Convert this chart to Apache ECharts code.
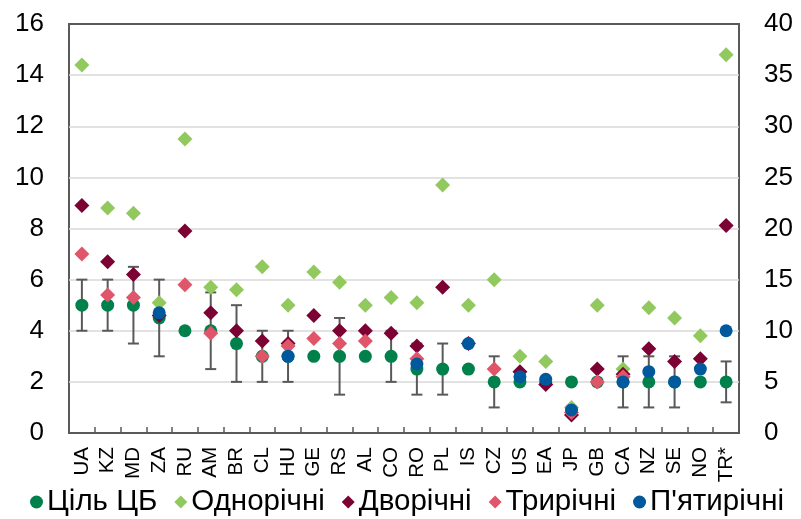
<!DOCTYPE html>
<html><head><meta charset="utf-8">
<script src="https://cdn.jsdelivr.net/npm/echarts@6/dist/echarts.min.js"></script>
<style>html,body{margin:0;padding:0;background:#fff}#c{width:801px;height:519px}</style>
</head><body><div id="c"></div>
<script>
// ---- data ----
const categories = ['UA','KZ','MD','ZA','RU','AM','BR','CL','HU','GE','RS','AL','CO','RO','PL','IS','CZ','US','EA','JP','GB','CA','NZ','SE','NO','TR*'];
// categories plotted against the right-hand axis
const rightAxisCategories = ['TR*'];
const targetValues = [5,5,5,4.5,4,4,3.5,3,3,3,3,3,3,2.5,2.5,2.5,2,2,2,2,2,2,2,2,2,5];
const targetLow  = [4,4,3.5,3,null,2.5,2,2,2,null,1.5,null,2,1.5,1.5,null,1,null,null,null,null,1,1,1,null,3];
const targetHigh = [6,6,6.5,6,null,5.5,5,4,4,null,4.5,null,4,3.5,3.5,null,3,null,null,null,null,3,3,3,null,7];
const oneYear   = [14.4,8.8,8.6,5.1,11.5,5.7,5.6,6.5,5.0,6.3,5.9,5.0,5.3,5.1,9.7,5.0,6.0,3.0,2.8,1.0,5.0,2.5,4.9,4.5,3.8,37];
const twoYear   = [8.9,6.7,6.2,4.6,7.9,4.7,4.0,3.6,3.5,4.6,4.0,4.0,3.9,3.4,5.7,3.5,null,2.4,1.9,0.7,2.5,2.3,3.3,2.8,2.9,20.3];
const threeYear = [7.0,5.4,5.3,null,5.8,3.9,null,3.0,3.4,3.7,3.5,3.6,null,2.9,null,null,2.5,null,null,0.8,2.0,2.2,null,null,null,null];
const fiveYear  = [null,null,null,4.7,null,null,null,null,3.0,null,null,null,null,2.7,null,3.5,null,2.2,2.1,0.9,null,2.0,2.4,2.0,2.5,10];
const leftAxisRange  = {min:0, max:16, interval:2};
const rightAxisRange = {min:0, max:40, interval:5};
const seriesNames = ['Ціль ЦБ','Однорічні','Дворічні','Трирічні',"П'ятирічні"];

// ---- styling ----
const FONT = 'Liberation Sans, Arial, sans-serif';
const AXIS_COLOR = '#595959';
const styles = [
  {values: targetValues, symbol:'circle',  size:13, color:'#00804B'},
  {values: oneYear,      symbol:'diamond', size:15, color:'#92C95E'},
  {values: twoYear,      symbol:'diamond', size:15, color:'#7B0233'},
  {values: threeYear,    symbol:'diamond', size:15, color:'#E0556A'},
  {values: fiveYear,     symbol:'circle',  size:13, color:'#00599D'}
];

function onRight(i){ return rightAxisCategories.indexOf(categories[i]) >= 0; }
function points(values, right){
  const out = [];
  values.forEach((v,i)=>{ if (v != null && onRight(i) === right) out.push([i, v]); });
  return out;
}
function ranges(right){
  const out = [];
  categories.forEach((c,i)=>{ if (targetLow[i] != null && onRight(i) === right) out.push([i, targetLow[i], targetHigh[i]]); });
  return out;
}
function errRender(params, api){
  const x = api.value(0);
  const lo = api.coord([x, api.value(1)]);
  const hi = api.coord([x, api.value(2)]);
  const w = 5.5;
  const st = {stroke: AXIS_COLOR, lineWidth: 2};
  return {type:'group', children:[
    {type:'line', shape:{x1:lo[0], y1:lo[1], x2:hi[0], y2:hi[1]}, style:st},
    {type:'line', shape:{x1:lo[0]-w, y1:lo[1], x2:lo[0]+w, y2:lo[1]}, style:st},
    {type:'line', shape:{x1:hi[0]-w, y1:hi[1], x2:hi[0]+w, y2:hi[1]}, style:st}
  ]};
}

const series = [];
[false, true].forEach(right=>{
  series.push({type:'custom', name:'range', yAxisIndex: right?1:0, renderItem: errRender,
    encode:{x:0, y:[1,2]}, data: ranges(right), silent:true, z:1});
});
styles.forEach((s,k)=>{
  [false, true].forEach(right=>{
    series.push({type:'scatter', name: seriesNames[k], yAxisIndex: right?1:0,
      symbol: s.symbol, symbolSize: s.size, itemStyle:{color: s.color, opacity:1},
      data: points(s.values, right), z: 2 + k});
  });
});

const chart = echarts.init(document.getElementById('c'), null, {renderer:'canvas'});
chart.setOption({
  animation:false,
  backgroundColor:'#fff',
  textStyle:{fontFamily: FONT},
  grid:{left:69, right:62, top:24, bottom:86, show:true, borderColor:AXIS_COLOR, borderWidth:2, containLabel:false},
  legend:{
    data: seriesNames.map((n,k)=>({name:n, icon: styles[k].symbol, itemStyle:{color: styles[k].color}})),
    left:30, width:771, top:487, itemWidth:13, itemHeight:13, itemGap:17, padding:0,
    textStyle:{fontFamily:FONT, fontSize:29.5, color:'#000', padding:[0,0,0,-1]}
  },
  xAxis:{
    type:'category', data: categories, boundaryGap:true,
    axisLine:{show:true, lineStyle:{color:AXIS_COLOR, width:2}},
    axisTick:{show:true, inside:true, length:6, lineStyle:{color:AXIS_COLOR, width:1.5}},
    axisLabel:{rotate:90, fontSize:20.5, margin:14, color:'#000', fontFamily:FONT, interval:0},
    splitLine:{show:false}
  },
  yAxis:[
    {type:'value', min:leftAxisRange.min, max:leftAxisRange.max, interval:leftAxisRange.interval,
      axisLine:{show:false}, axisTick:{show:false},
      axisLabel:{fontSize:26, margin:25, color:'#000', fontFamily:FONT},
      splitLine:{show:true, showMinLine:false, showMaxLine:false, lineStyle:{color:'#d9d9d9', width:1.5}}},
    {type:'value', min:rightAxisRange.min, max:rightAxisRange.max, interval:rightAxisRange.interval,
      axisLine:{show:false}, axisTick:{show:false},
      axisLabel:{fontSize:26, margin:25, color:'#000', fontFamily:FONT},
      splitLine:{show:false}}
  ],
  series: series
});
</script>
</body></html>
